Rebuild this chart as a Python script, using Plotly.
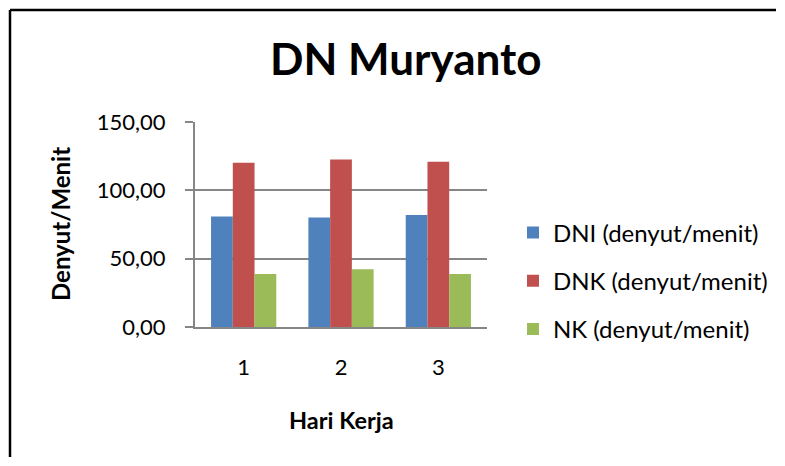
import plotly.graph_objects as go

categories = ["1", "2", "3"]
dni = [80.9, 80.1, 81.9]
dnk = [120.1, 122.6, 120.9]
nk = [38.7, 42.2, 38.7]
series_names = ["DNI (denyut/menit)", "DNK (denyut/menit)", "NK (denyut/menit)"]
colors = ["#4F81BD", "#C0504D", "#9BBB59"]
y_ticks = [0, 50, 100, 150]

# page body has an 8px margin; work in screen pixels and convert
OFF = 8
W, H = 785 - 2 * OFF, 466 - 2 * OFF
L, R, T, B = 195 - OFF, 487 - OFF, 122 - OFF, 327 - OFF

fig = go.Figure()
for i, (name, vals) in enumerate(zip(series_names, [dni, dnk, nk])):
    fig.add_trace(go.Bar(x=categories, y=vals, name=name, marker_color=colors[i],
                         marker_line_width=0, legendgroup=f"g{i}"))

def px_x(p):
    return (p - OFF - L) / (R - L)

def px_y(p):
    return (B - (p - OFF)) / (B - T)

fig.update_layout(
    width=W, height=H,
    margin=dict(l=L, r=W - R, t=T, b=H - B, pad=0, autoexpand=False),
    paper_bgcolor="white", plot_bgcolor="white",
    font=dict(family="Lato", color="black", size=22),
    barmode="group", bargap=0.33, bargroupgap=0,
    separators=", ",
    showlegend=True,
    legend=dict(x=px_x(513), y=px_y(281), xanchor="left", yanchor="middle",
                font=dict(size=24, family="Lato"), tracegroupgap=14,
                traceorder="grouped", itemwidth=30, bgcolor="rgba(0,0,0,0)"),
    xaxis=dict(showline=True, linecolor="#868686", linewidth=2, ticks="",
               tickfont=dict(size=22), showgrid=False, ticklabelstandoff=20),
    yaxis=dict(range=[0, 150], tickvals=y_ticks, tickformat=".2f",
               showline=True, linecolor="#868686", linewidth=2,
               ticks="outside", ticklen=8, tickcolor="#868686", tickwidth=2,
               gridcolor="#868686", gridwidth=2, ticklabelstandoff=15,
               tickfont=dict(size=22), zeroline=False),
    annotations=[
        dict(text="<b>DN Muryanto</b>", x=px_x(405), y=px_y(58), xref="paper", yref="paper",
             showarrow=False, font=dict(size=44, family="Lato"), xanchor="center", yanchor="middle"),
        dict(text="<b>Denyut/Menit</b>", x=px_x(60), y=px_y(224), xref="paper", yref="paper",
             showarrow=False, textangle=-90, font=dict(size=24, family="Lato"),
             xanchor="center", yanchor="middle"),
        dict(text="<b>Hari Kerja</b>", x=px_x(341), y=px_y(420), xref="paper", yref="paper",
             showarrow=False, font=dict(size=23.5, family="Lato"),
             xanchor="center", yanchor="middle"),
    ],
    shapes=[
        dict(type="line", xref="paper", yref="paper", x0=px_x(10), x1=px_x(776),
             y0=px_y(10), y1=px_y(10), line=dict(color="black", width=2.5)),
        dict(type="line", xref="paper", yref="paper", x0=px_x(10), x1=px_x(10),
             y0=px_y(10), y1=px_y(457), line=dict(color="black", width=2.5)),
    ],
)

fig.write_html("out.html", config={"displayModeBar": False})
